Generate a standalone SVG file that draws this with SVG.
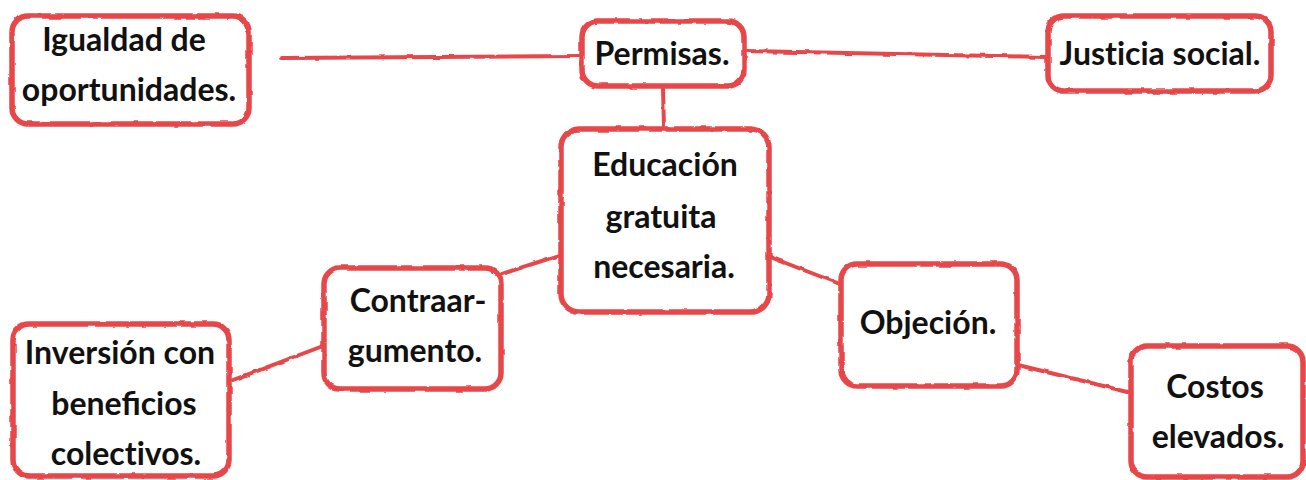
<svg xmlns="http://www.w3.org/2000/svg" width="1306" height="480" viewBox="0 0 1306 480">
  <defs>
    <filter id="rough" x="-5%" y="-5%" width="110%" height="110%">
      <feTurbulence type="fractalNoise" baseFrequency="0.08" numOctaves="2" seed="3" result="n"/>
      <feDisplacementMap in="SourceGraphic" in2="n" scale="3" xChannelSelector="R" yChannelSelector="G"/>
    </filter>
    <style>
      .box { fill: #ffffff; stroke: #e8474a; stroke-width: 5.5; }
      .edge { fill: none; stroke: #e8474a; stroke-width: 4; stroke-linecap: round; }
      .t { font-family: Lato, "Liberation Sans", sans-serif; font-weight: bold; font-size: 32px; fill: #111111; text-anchor: middle; }
      .nolig { font-variant-ligatures: none; font-feature-settings: "liga" 0, "dlig" 0, "clig" 0; }
    </style>
  </defs>
  <rect width="1306" height="480" fill="#ffffff"/>
  <g id="connectors" filter="url(#rough)">
    <path class="edge" d="M282 58 L581 56" stroke-width="3"/>
    <path class="edge" d="M746 51 L1046 57"/>
    <path class="edge" d="M663 88 L664 128"/>
    <path class="edge" d="M502 274 L560 255"/>
    <path class="edge" d="M323 346 L233 380"/>
    <path class="edge" d="M770 257 L840 284"/>
    <path class="edge" d="M1018 365 L1128 392"/>
  </g>
  <g id="n-igualdad">
    <rect class="box" x="12" y="16" width="237" height="108" rx="16" filter="url(#rough)"/>
    <text class="t" x="124" y="51">Igualdad de</text>
    <text class="t" x="129" y="101">oportunidades.</text>
  </g>
  <g id="n-permisas">
    <rect class="box" x="582" y="21" width="162" height="65" rx="16" filter="url(#rough)"/>
    <text class="t" x="662" y="65">Permisas.</text>
  </g>
  <g id="n-justicia">
    <rect class="box" x="1048" y="16" width="223" height="75" rx="16" filter="url(#rough)"/>
    <text class="t nolig" x="1160" y="65">Justicia social.</text>
  </g>
  <g id="n-educacion">
    <rect class="box" x="561" y="129" width="208" height="183" rx="18" filter="url(#rough)"/>
    <text class="t" x="665" y="176">Educación</text>
    <text class="t" x="661" y="228">gratuita</text>
    <text class="t" x="664" y="278">necesaria.</text>
  </g>
  <g id="n-contraargumento">
    <rect class="box" x="324" y="268" width="177" height="121" rx="16" filter="url(#rough)"/>
    <text class="t" x="418" y="312">Contraar-</text>
    <text class="t" x="415" y="362">gumento.</text>
  </g>
  <g id="n-inversion">
    <rect class="box" x="13" y="324" width="216" height="152" rx="16" filter="url(#rough)"/>
    <text class="t" x="120" y="364">Inversión con</text>
    <text class="t" x="124" y="415">beneficios</text>
    <text class="t nolig" x="126" y="465">colectivos.</text>
  </g>
  <g id="n-objecion">
    <rect class="box" x="841" y="264" width="176" height="122" rx="16" filter="url(#rough)"/>
    <text class="t" x="928" y="334">Objeción.</text>
  </g>
  <g id="n-costos">
    <rect class="box" x="1131" y="346" width="172" height="131" rx="16" filter="url(#rough)"/>
    <text class="t" x="1215" y="398">Costos</text>
    <text class="t" x="1218" y="448">elevados.</text>
  </g>
</svg>
